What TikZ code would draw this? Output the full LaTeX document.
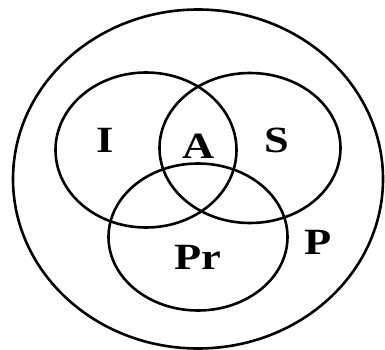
\documentclass[tikz,border=0pt]{standalone}
\usepackage{fontspec}
\setmainfont{Liberation Serif}
\usepackage{graphicx}
\usepackage{tikz}
\usetikzlibrary{shapes.geometric}
\newcommand{\setname}[1]{\scalebox{1.2}[1]{#1}}

\begin{document}
\begin{tikzpicture}[
  x=1pt, y=-1pt,
  setring/.style={draw, ellipse, line width=2.6pt, inner sep=0pt},
  setlabel/.style={font=\fontsize{37}{40}\selectfont\bfseries, inner sep=0pt}
]
\useasboundingbox (0,0) rectangle (385,350);
% outer set and the three sets inside it
\node[setring, minimum width=370pt, minimum height=339pt] (pset) at (198,179) {};
\node[setring, minimum width=181pt, minimum height=155pt] (iset) at (146,150) {};
\node[setring, minimum width=181pt, minimum height=150pt] (sset) at (250,148) {};
\node[setring, minimum width=179pt, minimum height=147pt] (prset) at (198,237) {};
% labels
\node[setlabel] (ilab) at (105,140) {\setname{I}};
\node[setlabel] (alab) at (199,146) {\setname{A}};
\node[setlabel] (slab) at (277,140) {\setname{S}};
\node[setlabel] (prlab) at (198,257) {\setname{Pr}};
\node[setlabel] (plab) at (318,242) {\setname{P}};
\end{tikzpicture}
\end{document}
